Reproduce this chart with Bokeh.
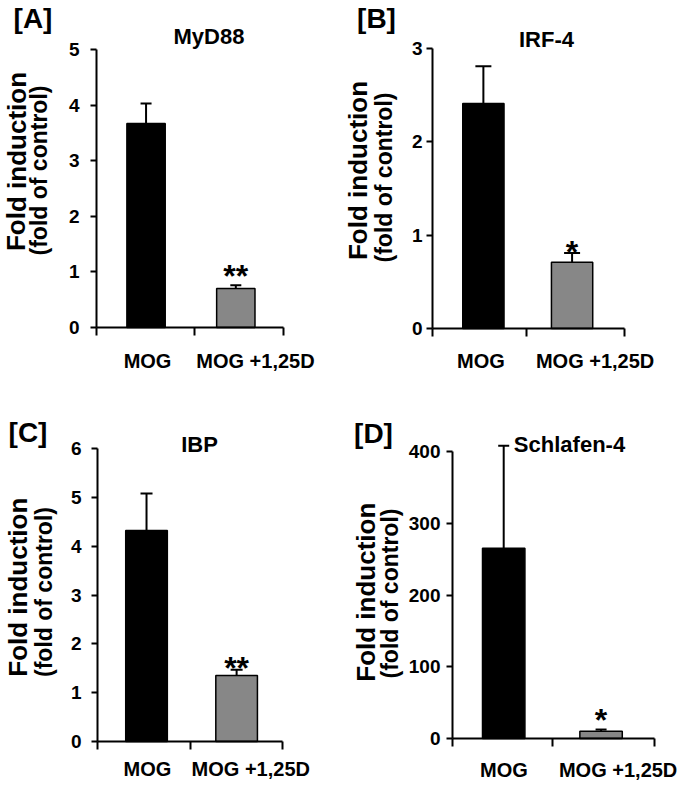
from bokeh.plotting import figure
from bokeh.layouts import column, row
from bokeh.models import FixedTicker, Whisker, TeeHead, Label, ColumnDataSource, Range1d
from bokeh.embed import file_html
from bokeh.resources import INLINE

# ---------------- data ----------------
categories = ["MOG", "MOG +1,25D"]
bar_colors = ["#000000", "#878787"]

myd88_mean = [3.67, 0.70]
myd88_err = [0.36, 0.06]
myd88_sig = "**"

irf4_mean = [2.41, 0.71]
irf4_err = [0.40, 0.10]
irf4_sig = "*"

ibp_mean = [4.32, 1.35]
ibp_err = [0.76, 0.12]
ibp_sig = "**"

slfn4_mean = [265, 10]
slfn4_err = [143, 2.5]
slfn4_sig = "*"

myd88_ticks = [0, 1, 2, 3, 4, 5]
irf4_ticks = [0, 1, 2, 3]
ibp_ticks = [0, 1, 2, 3, 4, 5, 6]
slfn4_ticks = [0, 100, 200, 300, 400]

panel_letters = ["[A]", "[B]", "[C]", "[D]"]
gene_titles = ["MyD88", "IRF-4", "IBP", "Schlafen-4"]
ylab_main = "Fold induction"
ylab_sub = "(fold of control)"

FONT = "Liberation Sans"


def make_panel(cfg):
    ox, oy = cfg["origin"]
    W, H = cfg["width"], cfg["height"]
    L, B = cfg["axis_origin"]          # local pixel position of the axes' origin
    sx = cfg["x_px"] / 2.0             # pixels per x unit (axis spans 0..2)
    top = cfg["ticks"][-1]
    sy = (B - cfg["top_px"]) / top     # pixels per y unit
    p = figure(
        output_backend="svg", toolbar_location=None,
        frame_width=W, frame_height=H,
        min_border_left=0, min_border_right=0, min_border_top=0, min_border_bottom=0,
        x_range=Range1d(-L / sx, (W - L) / sx),
        y_range=Range1d(-(H - B) / sy, B / sy),
        background_fill_color="white", border_fill_color="white",
    )
    p.outline_line_color = None
    p.xgrid.visible = False
    p.ygrid.visible = False

    fx = ox + L
    fy = oy + B

    def lab(text, rx, ry, size, align="center", baseline="middle", angle=0.0):
        p.add_layout(Label(
            x=0, y=0, x_units="data", y_units="data",
            x_offset=rx - fx, y_offset=fy - ry, text=text, angle=angle,
            text_font=FONT, text_font_style="bold", text_font_size=size,
            text_align=align, text_baseline=baseline, text_color="black"))

    mean, err = cfg["mean"], cfg["err"]
    upper = [m + e for m, e in zip(mean, err)]
    src = ColumnDataSource(dict(x=cfg["bar_x"], top=mean, upper=upper,
                                color=bar_colors, cat=categories))
    p.vbar(x="x", top="top", width=cfg["bar_w"], bottom=0, source=src,
           fill_color="color", line_color="black", line_width=1.5)
    p.add_layout(Whisker(source=src, base="x", lower="top", upper="upper",
                         line_color="black", line_width=2,
                         upper_head=TeeHead(size=cfg["cap"], line_color="black", line_width=2),
                         lower_head=None))

    # y axis, pinned at x = 0
    ya = p.yaxis[0]
    ya.fixed_location = 0
    ya.bounds = (0, top)
    ya.ticker = FixedTicker(ticks=cfg["ticks"])
    ya.axis_line_width = 2
    ya.major_tick_line_width = 2
    ya.major_tick_out = 6
    ya.major_tick_in = 0
    ya.minor_tick_out = 0
    ya.minor_tick_in = 0
    ya.major_label_text_font = FONT
    ya.major_label_text_font_style = "bold"
    ya.major_label_text_font_size = "19px"
    ya.major_label_text_color = "black"
    ya.major_label_standoff = cfg["tick_standoff"]

    # x axis, pinned at y = 0: category names as labels, separators as minor ticks
    xa = p.xaxis[0]
    xa.fixed_location = 0
    xa.bounds = (0, 2)
    xa.ticker = FixedTicker(ticks=cfg["label_x"], minor_ticks=[0, cfg["mid"], 2])
    xa.major_label_overrides = {lx: c for lx, c in zip(cfg["label_x"], categories)}
    xa.axis_line_width = 2
    xa.major_tick_out = 0
    xa.major_tick_in = 0
    xa.minor_tick_line_width = 2
    xa.minor_tick_out = 8
    xa.minor_tick_in = 0
    xa.major_label_text_font = FONT
    xa.major_label_text_font_style = "bold"
    xa.major_label_text_font_size = "20px"
    xa.major_label_text_color = "black"
    xa.major_label_standoff = cfg["cat_standoff"]

    # significance stars
    p.add_layout(Label(x=cfg["bar_x"][1], y=upper[1], x_units="data", y_units="data",
                       y_offset=cfg["star_off"], text=cfg["sig"],
                       text_font=FONT, text_font_style="bold", text_font_size="32px",
                       text_align="center", text_baseline="alphabetic", text_color="black"))

    lab(cfg["letter"], cfg["letter_pos"][0], cfg["letter_pos"][1], "28px")
    lab(cfg["title"], cfg["title_pos"][0], cfg["title_pos"][1], "22px", baseline="alphabetic")
    lab(ylab_main, cfg["fi_pos"][0], cfg["fi_pos"][1], "26px", angle=1.5707963)
    lab(ylab_sub, cfg["foc_pos"][0], cfg["foc_pos"][1], "23px", angle=1.5707963)
    return p


cfgA = dict(origin=(0, 0), width=340, height=390, axis_origin=(96, 327), x_px=187, top_px=49,
            ticks=myd88_ticks, mean=myd88_mean, err=myd88_err, sig=myd88_sig,
            bar_x=[0.53, 1.49], bar_w=0.41, mid=1.05, label_x=[0.546, 1.70],
            cap=11, star_off=9, cat_standoff=14, tick_standoff=11,
            letter=panel_letters[0], letter_pos=(32.5, 17.5),
            title=gene_titles[0], title_pos=(208.5, 36),
            fi_pos=(16, 161), foc_pos=(38, 170))
cfgB = dict(origin=(340, 0), width=341, height=390, axis_origin=(92, 328), x_px=192, top_px=48,
            ticks=irf4_ticks, mean=irf4_mean, err=irf4_err, sig=irf4_sig,
            bar_x=[0.53, 1.454], bar_w=0.43, mid=0.974, label_x=[0.504, 1.694],
            cap=16, star_off=1, cat_standoff=13, tick_standoff=4,
            letter=panel_letters[1], letter_pos=(376, 18),
            title=gene_titles[1], title_pos=(546, 39),
            fi_pos=(357.5, 170), foc_pos=(383, 177))
cfgC = dict(origin=(0, 390), width=340, height=395, axis_origin=(97, 351), x_px=185, top_px=58,
            ticks=ibp_ticks, mean=ibp_mean, err=ibp_err, sig=ibp_sig,
            bar_x=[0.53, 1.504], bar_w=0.45, mid=1.0, label_x=[0.54, 1.657],
            cap=12, star_off=2, cat_standoff=8, tick_standoff=10,
            letter=panel_letters[2], letter_pos=(27.5, 432),
            title=gene_titles[2], title_pos=(199, 444),
            fi_pos=(17.5, 586.7), foc_pos=(43, 591.5))
cfgD = dict(origin=(340, 390), width=341, height=395, axis_origin=(112, 348), x_px=202, top_px=61,
            ticks=slfn4_ticks, mean=slfn4_mean, err=slfn4_err, sig=slfn4_sig,
            bar_x=[0.507, 1.471], bar_w=0.42, mid=0.99, label_x=[0.509, 1.64],
            cap=11, star_off=10, cat_standoff=12, tick_standoff=6,
            letter=panel_letters[3], letter_pos=(373, 432.5),
            title=gene_titles[3], title_pos=(569, 444),
            fi_pos=(365, 591.7), foc_pos=(389.7, 593))

pA = make_panel(cfgA)
pB = make_panel(cfgB)
pC = make_panel(cfgC)
pD = make_panel(cfgD)

layout = column(row(pA, pB), row(pC, pD))
open("out.html", "w").write(file_html(layout, INLINE))
